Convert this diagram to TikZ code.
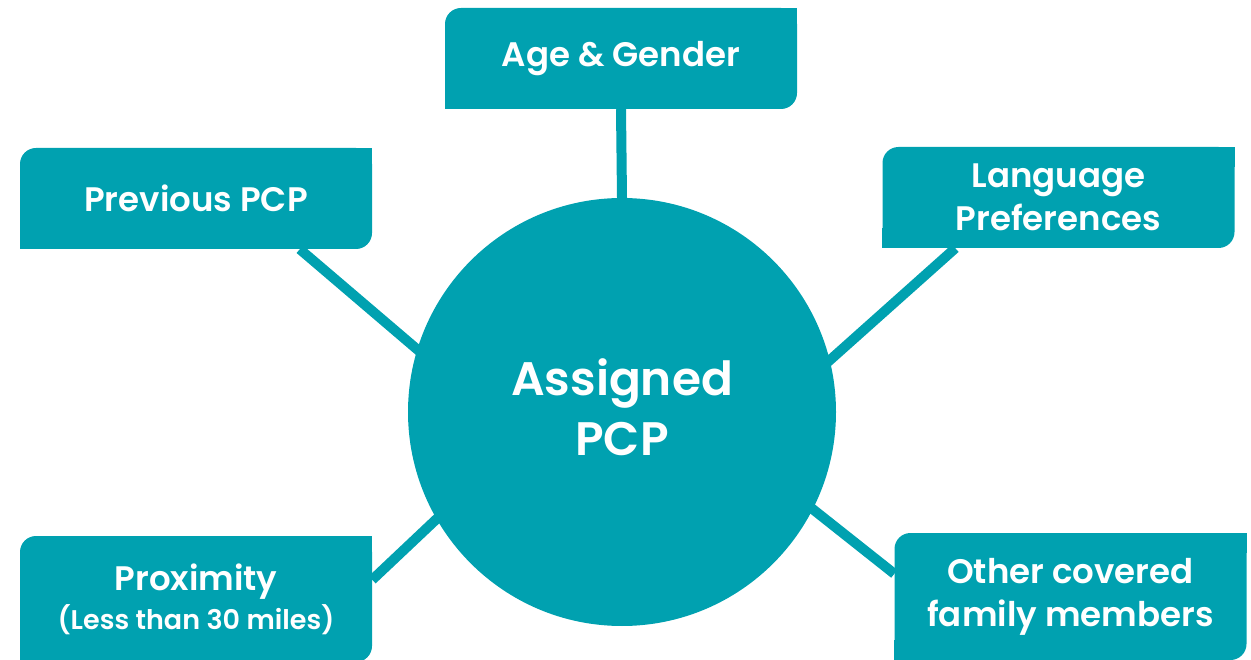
\documentclass[tikz,border=0pt]{standalone}
\usepackage{fontspec}
\setmainfont{Poppins}[BoldFont={Poppins SemiBold}]
\usetikzlibrary{backgrounds,calc}
\definecolor{pcpteal}{HTML}{00A1B0}
\begin{document}
\begin{tikzpicture}[x=1pt,y=-1pt,
  factor/.style={fill=pcpteal,text=white,rectangle,rounded corners=16pt,
    minimum width=352pt,minimum height=101pt,inner sep=0pt,align=center,
    font=\fontsize{34}{43}\selectfont\bfseries},
  hub/.style={fill=pcpteal,circle,minimum size=428pt,inner sep=0pt},
  hubtext/.style={text=white,align=center,font=\fontsize{47}{60}\selectfont\bfseries},
  link/.style={draw=pcpteal,line width=10pt,shorten <=-14pt}]
\useasboundingbox (0,0) rectangle (1251,660);

% central circle
\node[hub] (pcp) at (622,412) {};
\node[hubtext] (pcptext) at (622,407) {Assigned\\PCP};

% factor boxes: rounded top-left and bottom-right corners
\node[factor] (age)  at (621,58.5)  {Age \& Gender};
\node[factor] (prev) at (196,198.5) {Previous PCP};
\node[factor] (lang) at (1058.5,197.5) {Language\\Preferences};
\node[factor,minimum height=126pt] (prox) at (196,599) {Proximity\\[-4pt]{\fontsize{27}{31}\selectfont(Less than 30 miles)}};
\node[factor,minimum height=127pt] (fam)  at (1070.5,596.5) {Other covered\\family members};

% square off the top-right and bottom-left corners
\foreach \b in {age,prev,lang,prox,fam}{
  \fill[pcpteal] (\b.north east) rectangle ++(-20,20);
  \fill[pcpteal] (\b.south west) rectangle ++(20,-20);
}

% connectors
\begin{scope}[on background layer]
  \draw[link] (pcp.90) -- (age.south);
  \draw[link] (pcp.163.5) -- ($(prev.south west)+(280,0)$);
  \draw[link] (pcp.14.2) -- ($(lang.south west)+(73,0)$);
  \draw[link] (pcp.210.5) -- ($(prox.north east)+(0,44)$);
  \draw[link] (pcp.-27) -- ($(fam.north west)+(0,41)$);
\end{scope}
\end{tikzpicture}
\end{document}
